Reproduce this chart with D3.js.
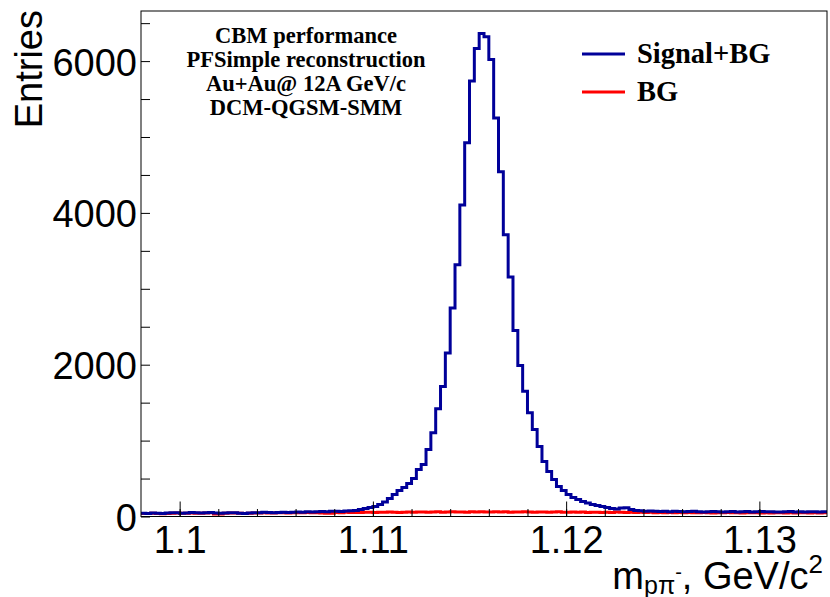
<!DOCTYPE html>
<html>
<head>
<meta charset="utf-8">
<script src="https://cdn.jsdelivr.net/npm/d3@7"></script>
<style>
  body { margin: 0; background: #fff; }
  svg { display: block; }
</style>
</head>
<body>
<svg id="chart" width="830" height="597"></svg>
<script>
// Histogram binning of the invariant mass m(p pi-), GeV/c^2
const massLow = 1.098;
const massHigh = 1.1335;
const binWidth = 0.00025;

// Axis ticks
const xTickValues = [1.10, 1.11, 1.12, 1.13];
const xTickLabels = ["1.1", "1.11", "1.12", "1.13"];
const yTickValues = [0, 2000, 4000, 6000];
const yTickLabels = ["0", "2000", "4000", "6000"];

// Entries per bin: signal + background
const signalPlusBG = [
  44, 40, 46, 42, 38, 45, 48, 50, 44, 47,
  52, 48, 45, 50, 54, 47, 42, 46, 50, 48,
  44, 41, 46, 48, 50, 55, 52, 48, 54, 57,
  52, 56, 60, 57, 62, 58, 63, 66, 61, 68,
  70, 67, 74, 76, 79, 92, 105, 118, 132, 158,
  191, 237, 289, 342, 382, 434, 500, 618, 684, 882,
  1105, 1421, 1714, 2154, 2746, 3316, 4105, 4925, 5737, 6167,
  6364, 6320, 6020, 5250, 4543, 3711, 3154, 2451, 1991, 1649,
  1368, 1145, 921, 724, 592, 487, 395, 342, 289, 250,
  224, 197, 178, 158, 145, 132, 118, 105, 99, 112,
  114, 92, 79, 75, 70, 72, 68, 66, 70, 64,
  68, 65, 62, 66, 70, 64, 60, 63, 67, 62,
  58, 64, 66, 60, 62, 65, 59, 63, 66, 61,
  64, 60, 58, 62, 65, 60, 63, 59, 61, 64,
  60, 62
];

// Entries per bin: background only
const backgroundOnly = [
  40, 38, 42, 40, 37, 41, 44, 46, 42, 44,
  46, 44, 42, 45, 48, 34, 32, 43, 46, 45,
  42, 39, 44, 45, 46, 48, 47, 45, 48, 50,
  47, 49, 50, 48, 52, 49, 51, 45, 42, 44,
  54, 51, 55, 53, 54, 52, 56, 55, 53, 57,
  55, 58, 56, 54, 57, 59, 55, 58, 60, 56,
  58, 61, 57, 59, 62, 58, 60, 57, 61, 59,
  63, 60, 58, 62, 59, 61, 57, 60, 58, 62,
  59, 56, 60, 58, 55, 58, 61, 57, 55, 59,
  56, 58, 54, 57, 55, 53, 57, 54, 58, 56,
  52, 55, 53, 56, 52, 55, 50, 53, 51, 54,
  50, 52, 49, 53, 51, 48, 52, 50, 47, 51,
  49, 52, 48, 50, 47, 50, 48, 51, 46, 49,
  47, 50, 48, 46, 49, 47, 50, 48, 46, 49,
  47, 48
];

const infoLines = ["CBM performance", "PFSimple reconstruction", "Au+Au@ 12A GeV/c", "DCM-QGSM-SMM"];
const legendLabels = ["Signal+BG", "BG"];
const seriesColors = ["#000099", "#ff0000"];

// Layout
const frame = { left: 141, right: 827, top: 11, bottom: 516.5 };
const yMax = 6660;

const svg = d3.select("#chart");
const sans = "'Liberation Sans', Arial, Helvetica, sans-serif";
const serif = "'Liberation Serif', 'Times New Roman', Times, serif";

const x = d3.scaleLinear().domain([massLow, massHigh]).range([frame.left, frame.right]);
const y = d3.scaleLinear().domain([0, yMax]).range([frame.bottom, frame.top]);

// Clip for the histogram outlines
svg.append("defs").append("clipPath").attr("id", "frameClip")
  .append("rect")
  .attr("x", frame.left).attr("y", frame.top)
  .attr("width", frame.right - frame.left).attr("height", frame.bottom - frame.top);

// Step outline through bin edges
function histPoints(values) {
  const pts = values.map((v, i) => [massLow + i * binWidth, v]);
  pts.push([massLow + values.length * binWidth, values[values.length - 1]]);
  return pts;
}
const stepLine = d3.line()
  .x(d => x(d[0]))
  .y(d => y(d[1]))
  .curve(d3.curveStepAfter);

const plot = svg.append("g").attr("clip-path", "url(#frameClip)");
plot.append("path")
  .datum(histPoints(backgroundOnly))
  .attr("d", stepLine)
  .attr("fill", "none")
  .attr("stroke", seriesColors[1])
  .attr("stroke-width", 3);
plot.append("path")
  .datum(histPoints(signalPlusBG))
  .attr("d", stepLine)
  .attr("fill", "none")
  .attr("stroke", seriesColors[0])
  .attr("stroke-width", 3);

// Frame
svg.append("rect")
  .attr("x", frame.left).attr("y", frame.top)
  .attr("width", frame.right - frame.left).attr("height", frame.bottom - frame.top)
  .attr("fill", "none").attr("stroke", "#000").attr("stroke-width", 1);

// X axis: inward ticks
const xMinor = d3.range(549, 567).map(k => +(k * 0.002).toFixed(3))
  .filter(v => v > massLow && v < massHigh);
const xAxisMinor = d3.axisBottom(x).tickValues(xMinor).tickSize(-7.5).tickFormat("");
const xAxisMajor = d3.axisBottom(x).tickValues(xTickValues).tickSize(-15)
  .tickFormat((d, i) => xTickLabels[i]);

const gxMinor = svg.append("g").attr("transform", `translate(0,${frame.bottom})`).call(xAxisMinor);
gxMinor.select(".domain").remove();
const gxMajor = svg.append("g").attr("transform", `translate(0,${frame.bottom})`).call(xAxisMajor);
gxMajor.select(".domain").remove();
gxMajor.selectAll("text")
  .attr("font-family", sans).attr("font-size", 38).attr("fill", "#000")
  .attr("dy", null).attr("y", 36);
svg.selectAll(".tick line").attr("stroke", "#000").attr("stroke-width", 1);

// Y axis: inward ticks
const yMinor = d3.range(0, yMax, 500).filter(v => v % 2000 !== 0);
const yAxisMinor = d3.axisLeft(y).tickValues(yMinor).tickSize(-9).tickFormat("");
const yAxisMajor = d3.axisLeft(y).tickValues(yTickValues).tickSize(-9)
  .tickFormat((d, i) => yTickLabels[i]);

const gyMinor = svg.append("g").attr("transform", `translate(${frame.left},0)`).call(yAxisMinor);
gyMinor.select(".domain").remove();
const gyMajor = svg.append("g").attr("transform", `translate(${frame.left},0)`).call(yAxisMajor);
gyMajor.select(".domain").remove();
gyMajor.selectAll("text")
  .attr("font-family", sans).attr("font-size", 38).attr("fill", "#000")
  .attr("x", -4).attr("dy", null).attr("y", 14);
svg.selectAll(".tick line").attr("stroke", "#000").attr("stroke-width", 1);

// Axis titles
svg.append("text")
  .attr("transform", "translate(42,10) rotate(-90)")
  .attr("text-anchor", "end")
  .attr("font-family", sans).attr("font-size", 38).attr("fill", "#000")
  .text("Entries");

const xt = svg.append("text")
  .attr("x", 823).attr("y", 589)
  .attr("text-anchor", "end")
  .attr("font-family", sans).attr("font-size", 38).attr("fill", "#000");
xt.append("tspan").text("m");
xt.append("tspan").attr("font-size", 25).attr("dy", 5).text("pπ");
xt.append("tspan").attr("font-size", 20).attr("dy", -15).text("-");
xt.append("tspan").attr("font-size", 38).attr("dy", 10).text(", GeV/c");
xt.append("tspan").attr("font-size", 26).attr("dy", -16).text("2");

// Info text block
svg.append("g").selectAll("text")
  .data(infoLines)
  .join("text")
  .attr("x", 306)
  .attr("y", (d, i) => 43 + i * 24)
  .attr("text-anchor", "middle")
  .attr("font-family", serif).attr("font-weight", "bold").attr("font-size", 22.5)
  .attr("fill", "#000")
  .text(d => d);

// Legend
const legend = svg.append("g").selectAll("g")
  .data(legendLabels)
  .join("g")
  .attr("transform", (d, i) => `translate(582,${54 + i * 38})`);
legend.append("line")
  .attr("x1", 0).attr("x2", 43).attr("y1", 0).attr("y2", 0)
  .attr("stroke", (d, i) => seriesColors[i]).attr("stroke-width", 3);
legend.append("text")
  .attr("x", 55).attr("y", 9)
  .attr("font-family", serif).attr("font-weight", "bold").attr("font-size", 28.5)
  .attr("fill", "#000")
  .text(d => d);
</script>
</body>
</html>
